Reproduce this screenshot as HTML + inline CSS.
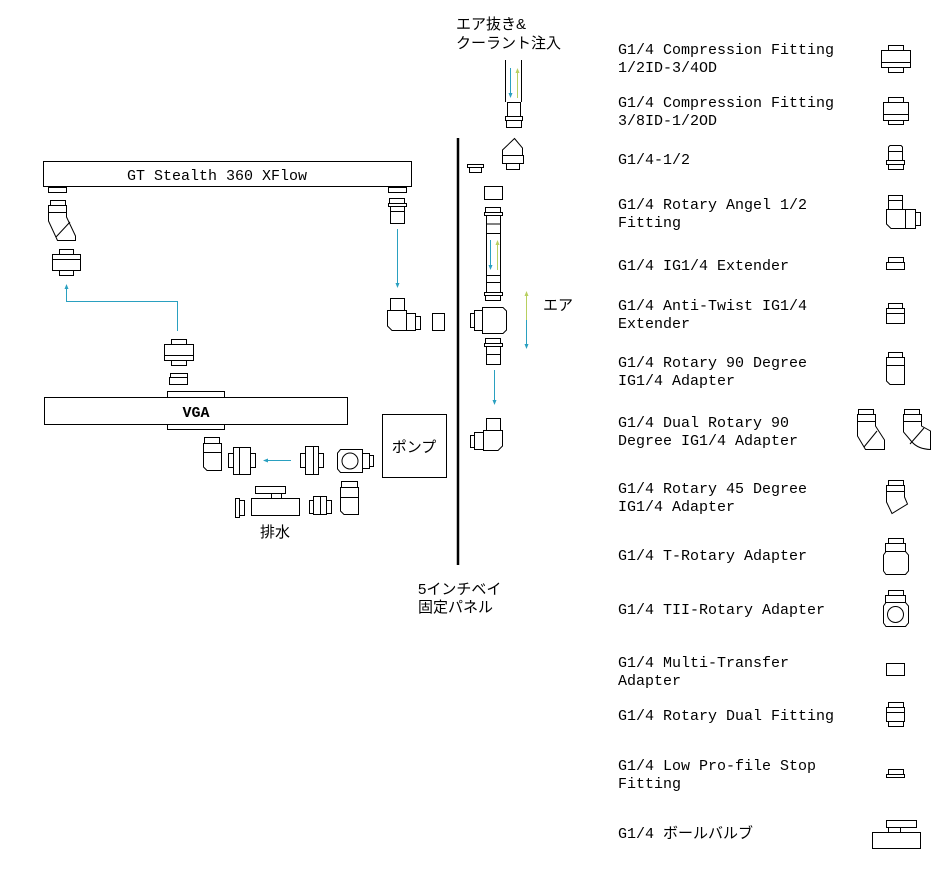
<!DOCTYPE html>
<html><head><meta charset="utf-8"><style>
html,body{margin:0;padding:0;background:#fff;}
svg{display:block;}
text{font-family:"Liberation Mono","Noto Sans CJK JP",monospace;font-size:15px;fill:#000;}
.j{font-family:"Liberation Sans","Noto Sans CJK JP",sans-serif;font-size:15px;}
</style></head><body>
<svg width="952" height="872" viewBox="0 0 952 872" xmlns="http://www.w3.org/2000/svg">
<defs>
<marker id="ab" markerWidth="6" markerHeight="6" refX="3" refY="3" orient="auto"><path d="M0,1 L5,3 L0,5 z" fill="#2aa0c0"/></marker>
<marker id="ay" markerWidth="6" markerHeight="6" refX="3" refY="3" orient="auto"><path d="M0,1 L5,3 L0,5 z" fill="#b8d060"/></marker>
</defs>
<g fill="none" stroke="#000" stroke-width="1">
<!-- radiator -->
<rect x="43.5" y="161.5" width="368" height="25"/>
<rect x="48.5" y="187.5" width="18" height="5"/>
<rect x="388.5" y="187.5" width="18" height="5"/>
<!-- left 45 fitting -->
<rect x="50.5" y="200.5" width="15" height="5"/>
<path d="M48.5,205.5 H66.5 V217 L75.5,236 V240.5 H57.5 L48.5,221 Z"/>
<line x1="48.5" y1="212.5" x2="66.5" y2="212.5"/>
<line x1="56" y1="237" x2="70" y2="222"/>
<!-- compression left -->
<rect x="59.5" y="249.5" width="14" height="5"/>
<rect x="52.5" y="254.5" width="28" height="16"/>
<line x1="52.5" y1="259.5" x2="80.5" y2="259.5"/>
<rect x="59.5" y="270.5" width="14" height="5"/>
<!-- right fitting under radiator -->
<rect x="389.5" y="198.5" width="15" height="5"/>
<rect x="388.5" y="203.5" width="18" height="3"/>
<rect x="390.5" y="206.5" width="14" height="17"/>
<line x1="390.5" y1="211.5" x2="404.5" y2="211.5"/>
<!-- right angle fitting -->
<rect x="390.5" y="298.5" width="14" height="12"/>
<path d="M387.5,310.5 H406.5 V330.5 H392 L387.5,326 Z"/>
<rect x="406.5" y="313.5" width="9" height="17"/>
<rect x="415.5" y="316.5" width="5" height="13"/>
<rect x="432.5" y="313.5" width="12" height="17"/>
<!-- compression above VGA -->
<rect x="171.5" y="339.5" width="15" height="5"/>
<rect x="164.5" y="344.5" width="29" height="16"/>
<line x1="164.5" y1="355.5" x2="193.5" y2="355.5"/>
<rect x="171.5" y="360.5" width="15" height="5"/>
<rect x="170.5" y="373.5" width="17" height="4"/>
<rect x="169.5" y="377.5" width="18" height="7"/>
<!-- VGA -->
<rect x="167.5" y="391.5" width="57" height="6"/>
<rect x="44.5" y="397.5" width="303" height="27"/>
<rect x="167.5" y="424.5" width="57" height="5"/>
<!-- pump -->
<rect x="382.5" y="414.5" width="64" height="63"/>
<!-- row 1 -->
<rect x="204.5" y="437.5" width="15" height="6"/>
<path d="M203.5,443.5 H221.5 V470.5 H207 L203.5,467 Z"/>
<line x1="203.5" y1="452.5" x2="221.5" y2="452.5"/>
<rect x="228.5" y="453.5" width="5" height="14"/>
<rect x="233.5" y="447.5" width="17" height="27"/>
<line x1="239.5" y1="447.5" x2="239.5" y2="474.5"/>
<rect x="250.5" y="453.5" width="5" height="14"/>
<rect x="300.5" y="453.5" width="5" height="14"/>
<rect x="305.5" y="446.5" width="13" height="28"/>
<line x1="313.5" y1="446.5" x2="313.5" y2="474.5"/>
<rect x="318.5" y="453.5" width="5" height="14"/>
<path d="M340.5,449.5 H362.5 V472.5 H340.5 L337.5,469 V453 Z"/>
<circle cx="350" cy="461" r="8"/>
<rect x="362.5" y="453.5" width="7" height="15"/>
<rect x="369.5" y="455.5" width="4" height="11"/>
<!-- row 2 -->
<rect x="235.5" y="498.5" width="4" height="19"/>
<rect x="239.5" y="500.5" width="5" height="15"/>
<rect x="255.5" y="486.5" width="30" height="7"/>
<rect x="271.5" y="493.5" width="10" height="5"/>
<rect x="251.5" y="498.5" width="48" height="17"/>
<rect x="309.5" y="500.5" width="4" height="13"/>
<rect x="313.5" y="496.5" width="13" height="18"/>
<line x1="320.5" y1="496.5" x2="320.5" y2="514.5"/>
<rect x="326.5" y="500.5" width="5" height="13"/>
<rect x="341.5" y="481.5" width="16" height="6"/>
<path d="M340.5,487.5 H358.5 V514.5 H344 L340.5,511 Z"/>
<line x1="340.5" y1="497.5" x2="358.5" y2="497.5"/>
<!-- middle column -->
<line x1="505.5" y1="60" x2="505.5" y2="102"/>
<line x1="521.5" y1="60" x2="521.5" y2="102"/>
<rect x="507.5" y="102.5" width="13" height="14"/>
<rect x="505.5" y="116.5" width="17" height="4"/>
<rect x="506.5" y="120.5" width="15" height="7"/>
<path d="M514.5,138.5 L522.5,148 V155.5 H502.5 V150 Z"/>
<rect x="502.5" y="155.5" width="21" height="8"/>
<rect x="506.5" y="163.5" width="13" height="6"/>
<rect x="467.5" y="164.5" width="16" height="3"/>
<rect x="469.5" y="167.5" width="12" height="5"/>
<rect x="484.5" y="186.5" width="18" height="13"/>
<rect x="485.5" y="207.5" width="15" height="5"/>
<rect x="484.5" y="212.5" width="18" height="3"/>
<rect x="486.5" y="215.5" width="14" height="18"/>
<line x1="486.5" y1="224" x2="500.5" y2="224"/>
<line x1="486.5" y1="233" x2="486.5" y2="275"/>
<line x1="500.5" y1="233" x2="500.5" y2="275"/>
<rect x="486.5" y="275.5" width="14" height="17"/>
<line x1="486.5" y1="282.5" x2="500.5" y2="282.5"/>
<rect x="484.5" y="292.5" width="18" height="3"/>
<rect x="485.5" y="295.5" width="15" height="5"/>
<rect x="470.5" y="313.5" width="4" height="14"/>
<rect x="474.5" y="310.5" width="8" height="20"/>
<path d="M482.5,307.5 H503 L506.5,311 V330 L503,333.5 H482.5 Z"/>
<rect x="485.5" y="338.5" width="15" height="5"/>
<rect x="484.5" y="343.5" width="18" height="3"/>
<rect x="486.5" y="346.5" width="14" height="18"/>
<line x1="486.5" y1="354.5" x2="500.5" y2="354.5"/>
<rect x="486.5" y="418.5" width="14" height="12"/>
<path d="M483.5,430.5 H502.5 V446 L498,450.5 H483.5 Z"/>
<rect x="474.5" y="432.5" width="9" height="17"/>
<rect x="470.5" y="435.5" width="4" height="12"/>
<!-- legend icons -->
<!-- 1 -->
<rect x="888.5" y="45.5" width="15" height="5"/>
<rect x="881.5" y="50.5" width="29" height="17"/>
<line x1="881.5" y1="62.5" x2="910.5" y2="62.5"/>
<rect x="888.5" y="67.5" width="15" height="5"/>
<!-- 2 -->
<rect x="888.5" y="97.5" width="15" height="5"/>
<rect x="883.5" y="102.5" width="25" height="18"/>
<line x1="883.5" y1="114.5" x2="908.5" y2="114.5"/>
<rect x="888.5" y="120.5" width="15" height="4"/>
<!-- 3 -->
<path d="M888.5,160.5 V147 L890,145.5 H901 L902.5,147 V160.5"/>
<line x1="888.5" y1="151.5" x2="902.5" y2="151.5"/>
<rect x="886.5" y="160.5" width="18" height="4"/>
<rect x="888.5" y="164.5" width="15" height="5"/>
<!-- 4 -->
<rect x="888.5" y="195.5" width="14" height="5"/>
<rect x="888.5" y="200.5" width="14" height="9"/>
<path d="M886.5,209.5 H905.5 V228.5 H891 L886.5,224 Z"/>
<rect x="905.5" y="209.5" width="10" height="19"/>
<rect x="915.5" y="212.5" width="5" height="13"/>
<!-- 5 -->
<rect x="888.5" y="257.5" width="15" height="5"/>
<rect x="886.5" y="262.5" width="18" height="7"/>
<!-- 6 -->
<rect x="888.5" y="303.5" width="14" height="5"/>
<rect x="886.5" y="308.5" width="18" height="15"/>
<line x1="886.5" y1="313.5" x2="904.5" y2="313.5"/>
<!-- 7 -->
<rect x="888.5" y="352.5" width="14" height="5"/>
<path d="M886.5,357.5 H904.5 V384.5 H890 L886.5,381 Z"/>
<line x1="886.5" y1="365.5" x2="904.5" y2="365.5"/>
<!-- 8 -->
<rect x="858.5" y="409.5" width="15" height="5"/>
<path d="M857.5,414.5 H875.5 V426 L884.5,440 V449.5 H865.5 L857.5,436 Z"/>
<line x1="857.5" y1="421.5" x2="875.5" y2="421.5"/>
<line x1="864" y1="447" x2="877" y2="431"/>
<rect x="904.5" y="409.5" width="15" height="5"/>
<path d="M903.5,414.5 H921.5 V426 L930.5,431 V449.5 Q918,449 912,442 L903.5,432 Z"/>
<line x1="903.5" y1="421.5" x2="921.5" y2="421.5"/>
<line x1="910" y1="444" x2="924" y2="428"/>
<!-- 9 -->
<rect x="888.5" y="480.5" width="15" height="5"/>
<path d="M886.5,485.5 H904.5 V497 L907.5,504 L892,513.5 L886.5,502 Z"/>
<line x1="886.5" y1="491.5" x2="904.5" y2="491.5"/>
<!-- 10 -->
<rect x="888.5" y="538.5" width="15" height="5"/>
<rect x="885.5" y="543.5" width="20" height="8"/>
<path d="M886,551.5 H905.5 L908.5,555 V571 L905.5,574.5 H886 L883.5,571 V555 Z"/>
<!-- 11 -->
<rect x="888.5" y="590.5" width="15" height="5"/>
<rect x="885.5" y="595.5" width="20" height="7"/>
<path d="M886,602.5 H905.5 L908.5,606 V623 L905.5,626.5 H886 L883.5,623 V606 Z"/>
<circle cx="895.5" cy="614.5" r="8"/>
<!-- 12 -->
<rect x="886.5" y="663.5" width="18" height="12"/>
<!-- 13 -->
<rect x="888.5" y="702.5" width="15" height="5"/>
<rect x="886.5" y="707.5" width="18" height="14"/>
<line x1="886.5" y1="712.5" x2="904.5" y2="712.5"/>
<rect x="888.5" y="721.5" width="15" height="5"/>
<!-- 14 -->
<rect x="888.5" y="769.5" width="15" height="5"/>
<rect x="886.5" y="774.5" width="18" height="3"/>
<!-- 15 -->
<rect x="886.5" y="820.5" width="30" height="7"/>
<rect x="888.5" y="827.5" width="12" height="5"/>
<rect x="872.5" y="832.5" width="48" height="16"/>
</g>
<!-- panel line -->
<line x1="458" y1="138" x2="458" y2="565" stroke="#000" stroke-width="2.5"/>
<!-- arrows -->
<g fill="none" stroke-width="1">
<polyline points="177.5,331 177.5,301.5 66.5,301.5 66.5,286" stroke="#2aa0c0" marker-end="url(#ab)"/>
<line x1="397.5" y1="229" x2="397.5" y2="286" stroke="#2aa0c0" marker-end="url(#ab)"/>
<line x1="291" y1="460.5" x2="265" y2="460.5" stroke="#2aa0c0" marker-end="url(#ab)"/>
<line x1="510.5" y1="68" x2="510.5" y2="96" stroke="#2aa0c0" marker-end="url(#ab)"/>
<line x1="517.5" y1="98" x2="517.5" y2="70" stroke="#b8d060" marker-end="url(#ay)"/>
<line x1="490.5" y1="240" x2="490.5" y2="268" stroke="#2aa0c0" marker-end="url(#ab)"/>
<line x1="497.5" y1="270" x2="497.5" y2="242" stroke="#b8d060" marker-end="url(#ay)"/>
<line x1="526.5" y1="320" x2="526.5" y2="293" stroke="#b8d060" marker-end="url(#ay)"/>
<line x1="526.5" y1="320" x2="526.5" y2="347" stroke="#2aa0c0" marker-end="url(#ab)"/>
<line x1="494.5" y1="370" x2="494.5" y2="403" stroke="#2aa0c0" marker-end="url(#ab)"/>
</g>
<!-- labels -->
<text x="217" y="180" text-anchor="middle">GT Stealth 360 XFlow</text>
<text x="196" y="417" text-anchor="middle" font-weight="bold">VGA</text>
<text class="j" x="414" y="452" text-anchor="middle">ポンプ</text>
<text class="j" x="275" y="537" text-anchor="middle">排水</text>
<text class="j" x="456" y="29">エア抜き&amp;</text>
<text class="j" x="456" y="48">クーラント注入</text>
<text class="j" x="543" y="310">エア</text>
<text class="j" x="418" y="594">5インチベイ</text>
<text class="j" x="418" y="612">固定パネル</text>
<g>
<text x="618" y="54">G1/4 Compression Fitting</text>
<text x="618" y="72">1/2ID-3/4OD</text>
<text x="618" y="107">G1/4 Compression Fitting</text>
<text x="618" y="125">3/8ID-1/2OD</text>
<text x="618" y="164">G1/4-1/2</text>
<text x="618" y="209">G1/4 Rotary Angel 1/2</text>
<text x="618" y="227">Fitting</text>
<text x="618" y="270">G1/4 IG1/4 Extender</text>
<text x="618" y="310">G1/4 Anti-Twist IG1/4</text>
<text x="618" y="328">Extender</text>
<text x="618" y="367">G1/4 Rotary 90 Degree</text>
<text x="618" y="385">IG1/4 Adapter</text>
<text x="618" y="427">G1/4 Dual Rotary 90</text>
<text x="618" y="445">Degree IG1/4 Adapter</text>
<text x="618" y="493">G1/4 Rotary 45 Degree</text>
<text x="618" y="511">IG1/4 Adapter</text>
<text x="618" y="560">G1/4 T-Rotary Adapter</text>
<text x="618" y="614">G1/4 TII-Rotary Adapter</text>
<text x="618" y="667">G1/4 Multi-Transfer</text>
<text x="618" y="685">Adapter</text>
<text x="618" y="720">G1/4 Rotary Dual Fitting</text>
<text x="618" y="770">G1/4 Low Pro-file Stop</text>
<text x="618" y="788">Fitting</text>
<text x="618" y="838">G1/4 <tspan class="j">ボールバルブ</tspan></text>
</g>
</svg>
</body></html>
